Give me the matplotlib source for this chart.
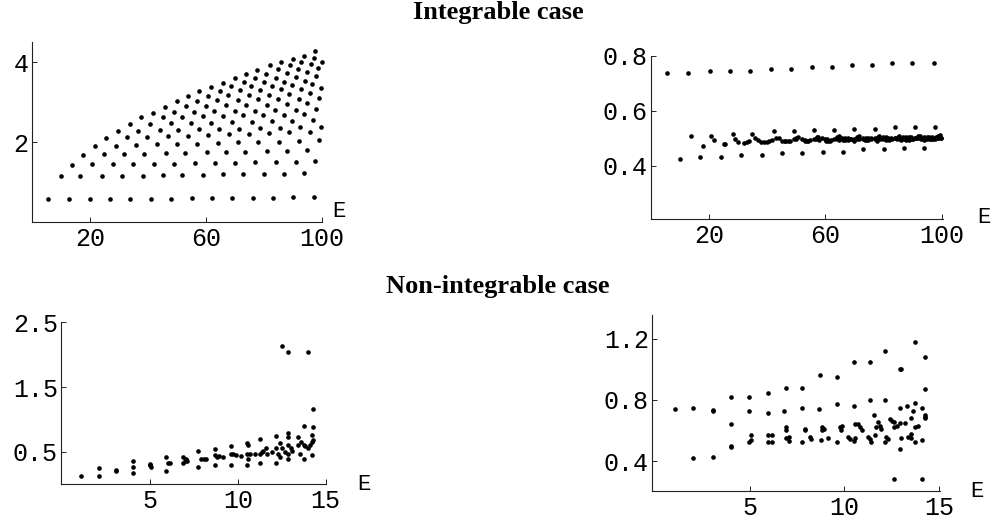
import matplotlib
matplotlib.use('Agg')
import matplotlib.pyplot as plt

# ---------------- data: integrable case (rows of levels) ----------------
E_int = [
    [5.5, 12.8, 20.1, 27.0, 33.9, 41.1, 48.0, 55.3, 62.2, 69.1, 76.2, 83.1, 89.9, 97.3],
    [9.9, 16.7, 24.0, 30.9, 38.2, 45.1, 51.8, 59.1, 66.0, 72.9, 80.1, 87.0, 93.8],
    [13.7, 20.6, 28.0, 34.8, 42.2, 49.0, 56.2, 63.1, 70.0, 76.9, 84.0, 90.9, 97.7],
    [17.7, 24.9, 31.8, 38.7, 46.1, 52.9, 60.2, 66.9, 73.6, 80.9, 87.8, 94.9],
    [21.6, 28.9, 35.8, 43.1, 50.0, 57.0, 64.0, 71.0, 78.0, 85.0, 92.0, 98.9],
    [25.5, 32.9, 39.8, 47.0, 53.9, 60.8, 67.9, 74.8, 81.8, 88.7, 95.9],
    [29.8, 36.7, 44.1, 50.5, 57.6, 64.5, 71.5, 78.5, 85.5, 92.5, 99.5],
    [33.8, 40.7, 47.9, 54.8, 61.8, 68.8, 75.8, 82.8, 89.8, 96.8],
    [37.7, 45.1, 51.8, 58.8, 65.8, 72.8, 79.8, 86.8, 93.8],
    [41.6, 49.0, 55.9, 62.9, 69.9, 76.9, 83.9, 90.9, 97.9],
    [46.0, 53.0, 59.9, 66.9, 73.9, 80.9, 87.9, 94.9],
    [49.9, 56.9, 63.9, 70.9, 77.9, 84.9, 91.9, 98.9],
    [53.7, 60.7, 67.7, 74.7, 81.7, 88.7, 95.7],
    [57.7, 64.7, 71.7, 78.7, 85.7, 92.7, 99.7],
    [61.6, 68.6, 75.6, 82.6, 89.6, 96.6],
    [66.0, 73.0, 80.0, 87.0, 94.0],
    [70.0, 77.0, 84.0, 91.0, 98.0],
    [73.8, 80.8, 87.8, 94.8],
    [77.7, 84.7, 91.7, 98.7],
    [82.1, 89.1, 96.1],
    [85.9, 92.9, 99.9],
    [90.1, 97.1],
    [93.8],
    [97.7],
]

Y_int_left = [
    [0.57, 0.57, 0.57, 0.58, 0.58, 0.58, 0.58, 0.59, 0.59, 0.60, 0.60, 0.60, 0.61, 0.61],
    [1.15, 1.15, 1.15, 1.16, 1.16, 1.17, 1.17, 1.18, 1.19, 1.19, 1.20, 1.21, 1.22],
    [1.43, 1.44, 1.44, 1.45, 1.45, 1.46, 1.47, 1.47, 1.48, 1.49, 1.50, 1.51, 1.52],
    [1.68, 1.69, 1.70, 1.71, 1.72, 1.73, 1.74, 1.75, 1.76, 1.77, 1.78, 1.80],
    [1.90, 1.91, 1.92, 1.94, 1.95, 1.96, 1.97, 1.99, 2.00, 2.01, 2.03, 2.05],
    [2.11, 2.12, 2.13, 2.15, 2.16, 2.17, 2.19, 2.20, 2.22, 2.24, 2.26],
    [2.28, 2.29, 2.30, 2.31, 2.32, 2.33, 2.34, 2.35, 2.36, 2.37, 2.38],
    [2.45, 2.46, 2.47, 2.48, 2.49, 2.50, 2.51, 2.52, 2.53, 2.55],
    [2.62, 2.63, 2.64, 2.65, 2.66, 2.67, 2.68, 2.69, 2.71],
    [2.74, 2.75, 2.76, 2.77, 2.78, 2.79, 2.80, 2.81, 2.83],
    [2.89, 2.90, 2.91, 2.92, 2.93, 2.94, 2.95, 2.97],
    [3.03, 3.04, 3.05, 3.06, 3.07, 3.08, 3.09, 3.10],
    [3.15, 3.16, 3.17, 3.18, 3.19, 3.20, 3.22],
    [3.28, 3.29, 3.30, 3.31, 3.32, 3.33, 3.35],
    [3.39, 3.40, 3.41, 3.42, 3.43, 3.45],
    [3.49, 3.50, 3.51, 3.52, 3.54],
    [3.60, 3.61, 3.62, 3.63, 3.65],
    [3.71, 3.72, 3.73, 3.75],
    [3.82, 3.83, 3.84, 3.86],
    [3.93, 3.94, 3.95],
    [4.00, 4.01, 4.02],
    [4.09, 4.10],
    [4.17],
    [4.28],
]

Y_int_right = [
    [0.739, 0.739, 0.745, 0.745, 0.745, 0.754, 0.754, 0.760, 0.760, 0.767, 0.767, 0.773, 0.773, 0.773],
    [0.425, 0.431, 0.431, 0.438, 0.438, 0.445, 0.445, 0.452, 0.452, 0.460, 0.460, 0.466, 0.466],
    [0.509, 0.507, 0.514, 0.516, 0.526, 0.526, 0.530, 0.530, 0.535, 0.535, 0.541, 0.541, 0.543],
    [0.473, 0.480, 0.484, 0.488, 0.490, 0.491, 0.492, 0.493, 0.494, 0.495, 0.495, 0.496],
    [0.495, 0.496, 0.500, 0.502, 0.503, 0.504, 0.505, 0.505, 0.506, 0.506, 0.507, 0.507],
    [0.480, 0.485, 0.488, 0.490, 0.491, 0.492, 0.493, 0.494, 0.495, 0.495, 0.496],
    [0.487, 0.495, 0.502, 0.504, 0.506, 0.507, 0.508, 0.509, 0.510, 0.510, 0.511],
    [0.492, 0.490, 0.492, 0.494, 0.495, 0.496, 0.497, 0.497, 0.498, 0.498],
    [0.488, 0.492, 0.498, 0.500, 0.502, 0.503, 0.504, 0.505, 0.505],
    [0.494, 0.496, 0.497, 0.498, 0.499, 0.500, 0.500, 0.501, 0.501],
    [0.490, 0.495, 0.499, 0.501, 0.503, 0.504, 0.505, 0.505],
    [0.497, 0.497, 0.498, 0.499, 0.499, 0.500, 0.500, 0.500],
    [0.492, 0.496, 0.500, 0.502, 0.503, 0.504, 0.505],
    [0.494, 0.495, 0.497, 0.498, 0.499, 0.500, 0.500],
    [0.490, 0.496, 0.500, 0.502, 0.504, 0.505],
    [0.494, 0.497, 0.498, 0.499, 0.500],
    [0.492, 0.498, 0.501, 0.503, 0.504],
    [0.495, 0.497, 0.499, 0.500],
    [0.491, 0.497, 0.501, 0.503],
    [0.496, 0.498, 0.499],
    [0.493, 0.499, 0.502],
    [0.496, 0.498],
    [0.494],
    [0.497],
]

# ---------------- data: non-integrable case ----------------
E_non_left = [1.09, 2.08, 2.08, 3.05, 3.07, 4.04, 4.04, 4.04, 4.98, 5.02, 5.07, 5.0,
              5.89, 5.89, 6.0, 6.12, 6.9, 7.05, 6.9, 7.1, 7.0,
              7.75, 7.75, 7.9, 8.05, 8.2, 8.72, 8.72, 8.8, 8.72, 8.9, 9.15,
              9.6, 9.6, 9.72, 9.9, 10.15, 9.6,
              10.5, 10.6, 10.5, 10.7, 10.95, 10.5, 10.6,
              11.25, 11.25, 11.35, 11.45, 11.25, 11.6, 11.65,
              11.95, 12.15, 12.15, 12.15, 12.3, 12.4, 12.4,
              12.5, 12.85,
              12.5, 12.7, 12.85, 12.85, 12.85, 12.85, 12.85, 13.0, 13.1,
              13.4, 13.45, 13.55, 13.6, 13.75, 13.75, 13.75, 13.85,
              14.0,
              14.0, 14.1, 14.25, 14.25, 14.25, 14.3, 14.3, 14.3]
Y_non_left = [0.12, 0.12, 0.24, 0.20, 0.22, 0.36, 0.27, 0.175, 0.31, 0.29, 0.27, 0.30,
              0.42, 0.20, 0.33, 0.33, 0.42, 0.38, 0.33, 0.36, 0.36,
              0.505, 0.27, 0.38, 0.38, 0.38, 0.54, 0.45, 0.42, 0.30, 0.43, 0.42,
              0.59, 0.46, 0.46, 0.45, 0.44, 0.30,
              0.63, 0.60, 0.46, 0.47, 0.47, 0.30, 0.39,
              0.69, 0.46, 0.50, 0.51, 0.32, 0.56, 0.47,
              0.50, 0.74, 0.55, 0.32, 0.47, 0.64, 0.41,
              2.14, 2.04,
              0.55, 0.50, 0.79, 0.73, 0.61, 0.47, 0.38, 0.55, 0.51,
              0.72, 0.61, 0.47, 0.65, 0.90, 0.61, 0.38, 0.59,
              2.04,
              0.55, 0.61, 0.76, 0.65, 0.45, 0.88, 0.68, 1.16]

E_non_right = [1.06, 2.03, 2.03, 3.07, 3.07, 3.07,
               4.04, 4.04, 4.04, 4.04, 4.99, 4.99, 5.1, 4.99, 5.1,
               5.96, 5.96, 5.96, 6.16, 5.96, 6.16,
               6.93, 6.84, 6.93, 6.93, 6.93, 7.06, 7.06,
               7.78, 7.78, 7.78, 7.9, 7.92, 8.17, 8.22,
               8.72, 8.68, 8.75, 8.8, 8.8, 8.9, 9.14,
               9.63, 9.63, 9.63, 9.75, 9.85, 9.82, 10.16, 10.29,
               10.48, 10.48, 10.48, 10.58, 10.72, 10.82, 10.94, 10.58,
               11.34, 11.34, 11.25, 11.34, 11.4, 11.57, 11.6, 11.76, 11.65, 11.87, 11.92,
               12.14, 12.14, 12.17, 12.28, 12.14, 12.4, 12.5, 12.63, 12.6, 12.78,
               12.6, 12.9, 13.0, 12.9, 12.9, 12.9, 13.0,
               13.28, 13.2, 13.33, 13.5, 13.5, 13.6, 13.69, 13.69, 13.69, 13.86, 13.69, 13.52,
               14.06, 14.06, 14.06, 14.25, 14.25, 14.22, 14.25, 14.25]
Y_non_right = [0.738, 0.748, 0.418, 0.733, 0.725, 0.428,
               0.82, 0.644, 0.50, 0.49, 0.82, 0.727, 0.57, 0.526, 0.537,
               0.846, 0.714, 0.57, 0.57, 0.524, 0.524,
               0.88, 0.727, 0.62, 0.60, 0.548, 0.559, 0.533,
               0.88, 0.748, 0.524, 0.61, 0.60, 0.559, 0.544,
               0.962, 0.738, 0.54, 0.62, 0.60, 0.61, 0.548,
               0.951, 0.77, 0.524, 0.62, 0.63, 0.60, 0.559, 0.544,
               1.045, 0.76, 0.528, 0.64, 0.64, 0.62, 0.60, 0.548,
               1.045, 0.80, 0.559, 0.544, 0.524, 0.699, 0.57, 0.655, 0.62, 0.63, 0.61,
               1.117, 0.80, 0.559, 0.544, 0.524, 0.675, 0.665, 0.653, 0.62, 0.63,
               0.284, 1.0, 1.0, 0.748, 0.476, 0.65, 0.548,
               0.761, 0.65, 0.56, 0.58, 0.68, 0.73, 1.178, 0.78, 0.62, 0.63, 0.524, 0.55,
               0.284, 0.748, 0.537, 1.082, 0.869, 0.70, 0.69, 0.68]

# tick values / labels
ticks_x_int = [20, 60, 100]
ticks_y_int_left = [2, 4]
ticks_y_int_right = [0.4, 0.6, 0.8]
ticks_x_non = [5, 10, 15]
ticks_y_non_left = [0.5, 1.5, 2.5]
ticks_y_non_right = [0.4, 0.8, 1.2]
title_top = "Integrable case"
title_bottom = "Non-integrable case"
xlabel = "E"

# ---------------- figure ----------------
W, H = 996, 523
fig = plt.figure(figsize=(W / 100, H / 100), dpi=100)
MONO = ['Liberation Mono', 'DejaVu Sans Mono']
SERIF = ['Liberation Serif', 'DejaVu Serif']
TICKFS = 18


def add_ax(l, t, r, b):
    return fig.add_axes([l / W, 1 - b / H, (r - l) / W, (b - t) / H])


def style(ax, xt, yt, ylabfmt, e_off):
    for s in ('top', 'right'):
        ax.spines[s].set_visible(False)
    for s in ('left', 'bottom'):
        ax.spines[s].set_linewidth(0.8)
        ax.spines[s].set_color('#222222')
    ax.set_xticks(xt)
    ax.set_yticks(yt)
    ax.set_xticklabels([str(v) for v in xt], family=MONO, fontsize=TICKFS)
    ax.set_yticklabels([ylabfmt(v) for v in yt], family=MONO, fontsize=TICKFS)
    ax.tick_params(axis='both', direction='in', length=3.5, width=0.7, color='#222222')
    ax.tick_params(axis='x', pad=3.5)
    ax.tick_params(axis='y', pad=2.5)
    ax.annotate(xlabel, xy=(1, 0), xycoords='axes fraction', xytext=e_off,
                textcoords='offset pixels', ha='center', va='center',
                family=MONO, fontsize=TICKFS - 2)


DOT = 11

# Panel 1
ax1 = add_ax(32, 41.7, 322, 221.7)
for ex, ey in zip(E_int, Y_int_left):
    ax1.scatter(ex, ey, s=DOT, c='black', linewidths=0, clip_on=False)
ax1.set_xlim(0, 100)
ax1.set_ylim(0, 4.52)
style(ax1, ticks_x_int, ticks_y_int_left, lambda v: str(int(v)), (17, 10))

# Panel 2
ax2 = add_ax(651.3, 56, 943, 219.3)
for ex, ey in zip(E_int, Y_int_right):
    ax2.scatter(ex, ey, s=DOT, c='black', linewidths=0, clip_on=False)
ax2.set_xlim(0, 100.5)
ax2.set_ylim(0.205, 0.8)
style(ax2, ticks_x_int, ticks_y_int_right, lambda v: f"{v:.1f}", (41, 2))

# Panel 3
ax3 = add_ax(61.3, 321.7, 326, 484)
ax3.scatter(E_non_left, Y_non_left, s=DOT, c='black', linewidths=0, clip_on=False)
ax3.set_xlim(-0.06, 15.02)
ax3.set_ylim(0, 2.51)
style(ax3, ticks_x_non, ticks_y_non_left, lambda v: f"{v:.1f}", (38, 0))

# Panel 4
ax4 = add_ax(652.3, 315, 940, 490.7)
ax4.scatter(E_non_right, Y_non_right, s=DOT, c='black', linewidths=0, clip_on=False)
ax4.set_xlim(-0.12, 15.03)
ax4.set_ylim(0.206, 1.355)
style(ax4, ticks_x_non, ticks_y_non_right, lambda v: f"{v:.1f}", (37, -1))

fig.text(0.5, 1 - 19 / H, title_top, ha='center', va='baseline',
         family=SERIF, fontweight='bold', fontsize=19)
fig.text(0.5, 1 - 293 / H, title_bottom, ha='center', va='baseline',
         family=SERIF, fontweight='bold', fontsize=19)

fig.savefig('out.png', dpi=100, facecolor='white')
